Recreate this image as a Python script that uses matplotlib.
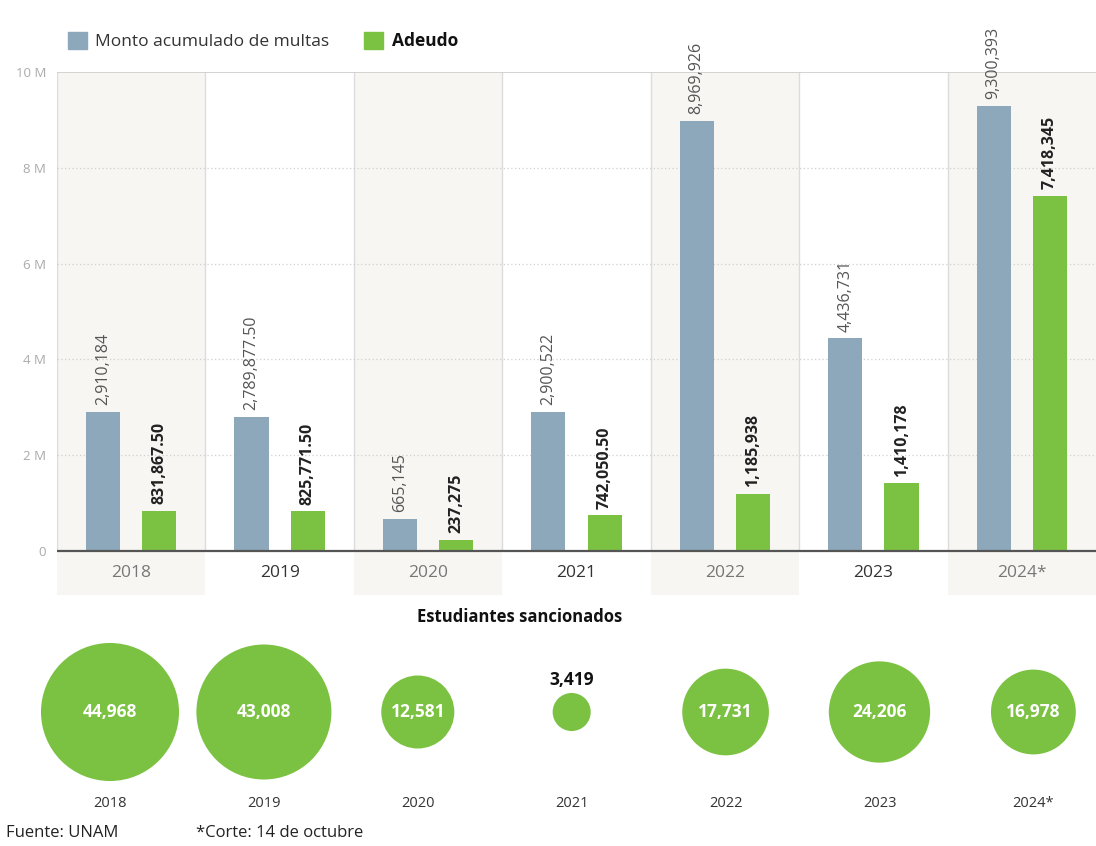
import matplotlib
matplotlib.use("Agg")
import matplotlib.pyplot as plt
from matplotlib.patches import Patch

plt.rcParams['font.family'] = ['Open Sans', 'DejaVu Sans']

# Data
years = ["2018", "2019", "2020", "2021", "2022", "2023", "2024*"]
monto = [2910184, 2789877.50, 665145, 2900522, 8969926, 4436731, 9300393]
adeudo = [831867.50, 825771.50, 237275, 742050.50, 1185938, 1410178, 7418345]
sancionados = [44968, 43008, 12581, 3419, 17731, 24206, 16978]
yticks = [0, 2e6, 4e6, 6e6, 8e6, 10e6]
ytick_labels = ["0", "2 M", "4 M", "6 M", "8 M", "10 M"]

BLUE = "#8ea8bb"
GREEN = "#7cc242"
SHADE = "#f8f6f3"
W, H = 1096, 846

def fmt(v):
    if v != int(v):
        return f"{v:,.2f}"
    return f"{int(v):,}"

fig = plt.figure(figsize=(W / 100, H / 100), dpi=100)
fig.patch.set_facecolor("white")

# ---- bar chart ----
top_px, zero_px, band_px = 72, 551, 595
ax = fig.add_axes([57 / W, (H - band_px) / H, (W - 57) / W, (band_px - top_px) / H])
ymin = -(band_px - zero_px) / (zero_px - top_px) * 10e6
ax.set_xlim(-0.5, 6.5)
ax.set_ylim(ymin, 10e6)
for s in ax.spines.values():
    s.set_visible(False)

n = len(years)
for i in range(n):
    if i % 2 == 0:
        ax.axvspan(i - 0.5, i + 0.5, color=SHADE, zorder=0, lw=0)
ax.vlines([i - 0.5 for i in range(n)], 0, 10e6, color="#dcdcdc", lw=1, zorder=1)
ax.hlines(yticks[1:-1], -0.5, 6.5, color="#cfcfcf", lw=0.9, linestyle=(0, (1, 2)), zorder=1)
ax.hlines(10e6, -0.5, 6.5, color="#cccccc", lw=1.2, zorder=1)
ax.hlines(0, -0.5, 6.5, color="#555555", lw=1.6, zorder=3)

off, bw = 0.19, 0.23
xs = list(range(n))
ax.bar([x - off for x in xs], monto, bw, color=BLUE, zorder=2)
ax.bar([x + off for x in xs], adeudo, bw, color=GREEN, zorder=2)

for x, v in zip(xs, monto):
    ax.annotate(fmt(v), (x - off, v), xytext=(0, 5), textcoords="offset points",
                rotation=90, ha="center", va="bottom", fontsize=11.5, color="#555555")
for x, v in zip(xs, adeudo):
    ax.annotate(fmt(v), (x + off, v), xytext=(0, 5), textcoords="offset points",
                rotation=90, ha="center", va="bottom", fontsize=11.5, color="#222222",
                fontweight="bold")

for i, y in enumerate(years):
    ax.text(i, ymin / 2, y, ha="center", va="center", fontsize=12.5,
            color="#777777" if i % 2 == 0 else "#333333")

ax.set_xticks([])
ax.set_yticks(yticks)
ax.set_yticklabels(ytick_labels, fontsize=9.5, color="#aaaaaa")
ax.tick_params(axis="y", length=0, pad=8)

handles = [Patch(color=BLUE), Patch(color=GREEN)]
leg = fig.legend(handles, ["Monto acumulado de multas", "Adeudo"], loc="center left",
                 bbox_to_anchor=(52 / W, 1 - 41 / H), ncol=2, frameon=False,
                 handlelength=1.1, handleheight=1.1, handletextpad=0.5,
                 columnspacing=2.0, fontsize=12.5)
for t in leg.get_texts():
    t.set_color("#333333")
leg.get_texts()[1].set_fontweight("bold")
leg.get_texts()[1].set_color("#111111")

# ---- bubbles ----
fig.text(520 / W, 1 - 617 / H, "Estudiantes sancionados", ha="center", va="center",
         fontsize=12, fontweight="bold", color="#111111")

b_top, b_bot = 640, 820
ax2 = fig.add_axes([0, (H - b_bot) / H, 1, (b_bot - b_top) / H])
ax2.set_xlim(-110 / 153.9, (W - 110) / 153.9)
ax2.set_ylim(0, 1)
ax2.axis("off")
cy = (b_bot - 712) / (b_bot - b_top)
scale = 9880 / 44968
ax2.scatter(xs, [cy] * n, s=[v * scale for v in sancionados], color=GREEN,
            edgecolors="none", zorder=2, clip_on=False)
for i, v in enumerate(sancionados):
    if v < 5000:
        ax2.text(i, (b_bot - 680) / (b_bot - b_top), f"{v:,}", ha="center", va="center",
                 fontsize=12.5, fontweight="bold", color="#111111")
    else:
        ax2.text(i, cy, f"{v:,}", ha="center", va="center", fontsize=12.5,
                 fontweight="bold", color="white", zorder=3)
    ax2.text(i, (b_bot - 803) / (b_bot - b_top), years[i], ha="center", va="center",
             fontsize=10.5, color="#333333")

fig.text(6 / W, 1 - 833 / H, "Fuente: UNAM", ha="left", va="center", fontsize=12,
         color="#222222")
fig.text(196 / W, 1 - 833 / H, "*Corte: 14 de octubre", ha="left", va="center",
         fontsize=12, color="#222222")

fig.savefig("out.png", dpi=100)
